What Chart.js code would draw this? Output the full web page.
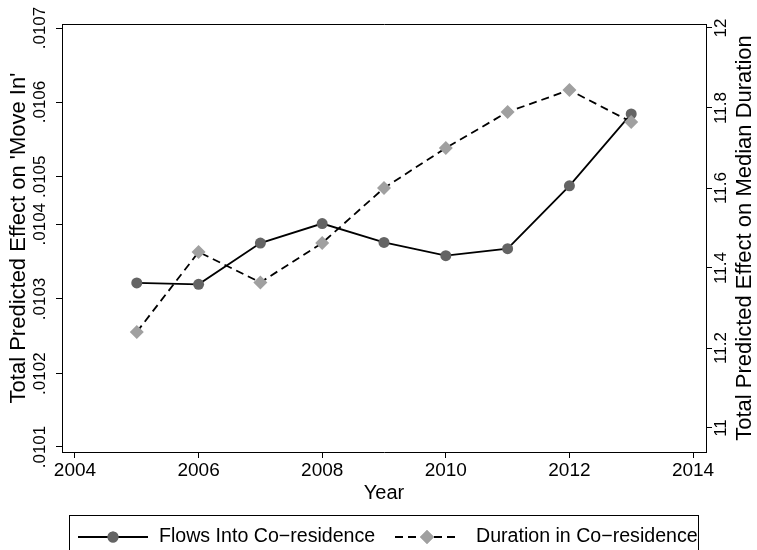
<!DOCTYPE html>
<html>
<head>
<meta charset="utf-8">
<script src="https://cdn.jsdelivr.net/npm/chart.js@4/dist/chart.umd.min.js"></script>
<style>
  html, body { margin: 0; padding: 0; background: #fff; }
  #wrap { width: 757px; height: 550px; position: relative; }
</style>
</head>
<body>
<div id="wrap"><canvas id="chart"></canvas></div>
<script>
// data
const years = [2005, 2006, 2007, 2008, 2009, 2010, 2011, 2012, 2013];
const flowsIn = [0.010335, 0.010333, 0.010392, 0.010420, 0.010393, 0.010374, 0.010384, 0.010474, 0.010577];
const duration = [11.24, 11.44, 11.364, 11.4625, 11.60, 11.70, 11.79, 11.845, 11.765];

const xTicks = [2004, 2006, 2008, 2010, 2012, 2014];
const leftTickValues = [0.0101, 0.010205, 0.010312, 0.010419, 0.010487, 0.010594, 0.0107];
const leftTickLabels = ['.0101', '.0102', '.0103', '.0104', '.0105', '.0106', '.0107'];
const rightTickValues = [11, 11.2, 11.4, 11.6, 11.8, 12];
const rightTickLabels = ['11', '11.2', '11.4', '11.6', '11.8', '12'];

const seriesNames = ['Flows Into Co\u2212residence', 'Duration in Co\u2212residence'];
const leftTitle = "Total Predicted Effect on 'Move In'";
const rightTitle = 'Total Predicted Effect on Median Duration';

const FONT = "'Liberation Sans', Arial, sans-serif";

function setTicks(values) {
    return function (scale) {
        scale.ticks = values.map(v => ({ value: v }));
    };
}

// title on the right axis reads bottom-to-top, and the legend shows line + marker
const extras = {
    id: 'extras',
    afterDraw(chart) {
        const ctx = chart.ctx;
        const area = chart.chartArea;
        ctx.save();
        ctx.fillStyle = '#000';
        ctx.font = '22px ' + FONT;
        ctx.textAlign = 'center';
        ctx.textBaseline = 'middle';
        ctx.translate(745, (area.top + area.bottom) / 2);
        ctx.rotate(-Math.PI / 2);
        ctx.fillText(rightTitle, 0, 0);
        ctx.restore();

        // legend box
        ctx.save();
        ctx.strokeStyle = '#000';
        ctx.lineWidth = 1;
        ctx.strokeRect(69.5, 515.5, 629, 60);
        const rowY = 537;
        const items = [
            { x0: 78, x1: 148, text: 159 },
            { x0: 395, x1: 459, text: 476 }
        ];
        chart.data.datasets.forEach(function (ds, i) {
            const it = items[i];
            ctx.beginPath();
            ctx.setLineDash(ds.borderDash || []);
            ctx.strokeStyle = ds.borderColor;
            ctx.lineWidth = ds.borderWidth;
            ctx.moveTo(it.x0, rowY);
            ctx.lineTo(it.x1, rowY);
            ctx.stroke();
            ctx.setLineDash([]);
            ctx.fillStyle = ds.pointBackgroundColor;
            Chart.helpers.drawPoint(ctx, { pointStyle: ds.pointStyle, radius: ds.pointRadius, borderWidth: 0 }, (it.x0 + it.x1) / 2, rowY);
            ctx.fill();
            ctx.fillStyle = '#000';
            ctx.font = '19.6px ' + FONT;
            ctx.textAlign = 'left';
            ctx.textBaseline = 'middle';
            ctx.fillText(ds.label, it.text, rowY);
        });
        ctx.restore();
    }
};

const ctx = document.getElementById('chart').getContext('2d');
const chart = new Chart(ctx, {
    type: 'line',
    data: {
        datasets: [{
            label: seriesNames[0],
            data: years.map((y, i) => ({ x: y, y: flowsIn[i] })),
            yAxisID: 'yL',
            borderColor: '#000',
            borderWidth: 1.8,
            pointStyle: 'circle',
            pointRadius: 5.5,
            pointBorderWidth: 0,
            pointBackgroundColor: '#646464',
            tension: 0,
            order: 1
        }, {
            label: seriesNames[1],
            data: years.map((y, i) => ({ x: y, y: duration[i] })),
            yAxisID: 'yR',
            borderColor: '#000',
            borderWidth: 1.8,
            borderDash: [8, 5],
            pointStyle: 'rectRot',
            pointRadius: 7,
            pointBorderWidth: 0,
            pointBackgroundColor: '#a0a0a0',
            tension: 0,
            order: 0
        }]
    },
    options: {
        responsive: true,
        maintainAspectRatio: false,
        animation: false,
        devicePixelRatio: 1,
        layout: { padding: { left: 0, right: 0, top: 24, bottom: 43 } },
        plugins: {
            legend: { display: false },
            tooltip: { enabled: false }
        },
        scales: {
            x: {
                type: 'linear',
                position: 'bottom',
                min: 2003.79,
                max: 2014.21,
                afterBuildTicks: setTicks(xTicks),
                afterFit: function (s) { s.height = 55; },
                ticks: {
                    color: '#000',
                    font: { family: FONT, size: 19 },
                    padding: 1,
                    maxRotation: 0,
                    callback: v => String(v)
                },
                grid: { display: true, drawOnChartArea: false, drawTicks: true, tickLength: 6, color: '#000', tickColor: '#000' },
                border: { display: true, color: '#000', width: 1 },
                title: { display: true, text: 'Year', color: '#000', font: { family: FONT, size: 20 }, padding: { top: 0, bottom: 2 } }
            },
            xTop: {
                type: 'linear',
                position: 'top',
                min: 2003.79,
                max: 2014.21,
                afterFit: function (s) { s.height = 0; },
                ticks: { display: false },
                grid: { display: false, drawTicks: false },
                border: { display: true, color: '#000', width: 1 }
            },
            yL: {
                type: 'linear',
                position: 'left',
                min: 0.01009284,
                max: 0.01070573,
                afterBuildTicks: setTicks(leftTickValues),
                afterFit: function (s) { s.width = 62; },
                ticks: {
                    color: '#000',
                    font: { family: FONT, size: 17 },
                    minRotation: 90,
                    maxRotation: 90,
                    crossAlign: 'center',
                    padding: -6,
                    callback: (v, i) => leftTickLabels[i]
                },
                grid: { display: true, drawOnChartArea: false, drawTicks: true, tickLength: 6, color: '#000', tickColor: '#000' },
                border: { display: true, color: '#000', width: 1 },
                title: { display: true, text: leftTitle, color: '#000', font: { family: FONT, size: 22 }, padding: { top: 6, bottom: 0 } }
            },
            yR: {
                type: 'linear',
                position: 'right',
                min: 10.94,
                max: 12.01,
                afterBuildTicks: setTicks(rightTickValues),
                afterFit: function (s) { s.width = 51; },
                ticks: {
                    color: '#000',
                    font: { family: FONT, size: 17 },
                    minRotation: 90,
                    maxRotation: 90,
                    crossAlign: 'center',
                    padding: -6.5,
                    callback: (v, i) => rightTickLabels[i]
                },
                grid: { display: true, drawOnChartArea: false, drawTicks: true, tickLength: 6, color: '#000', tickColor: '#000' },
                border: { display: true, color: '#000', width: 1 }
            }
        }
    },
    plugins: [extras]
});
</script>
</body>
</html>
